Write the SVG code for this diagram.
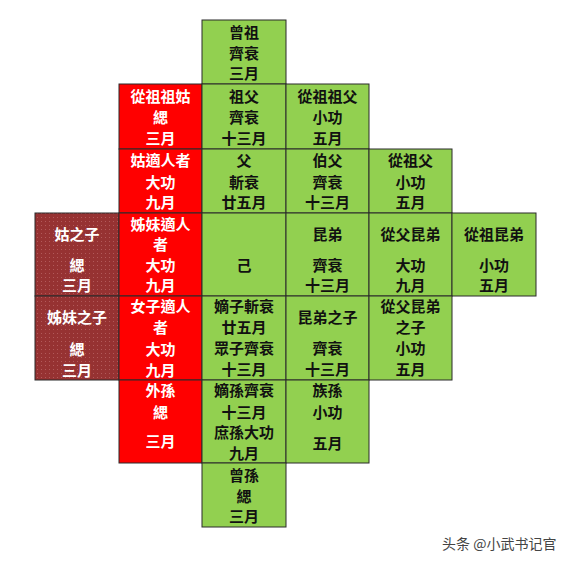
<svg xmlns="http://www.w3.org/2000/svg" width="576" height="566" viewBox="0 0 576 566">
<defs>
<pattern id="dots" width="4" height="4" patternUnits="userSpaceOnUse">
<rect width="4" height="4" fill="#963232"/>
<rect x="1" y="1" width="1" height="1" fill="#b25a5a"/>
</pattern>
<style>
rect.g{fill:#92D050;stroke:#2b2b2b;stroke-width:1}
rect.r{fill:#FF0000;stroke:#2b2b2b;stroke-width:1}
rect.b{fill:url(#dots);stroke:#2b2b2b;stroke-width:1}
text{font-family:"Noto Sans CJK TC","Noto Sans CJK SC",sans-serif;font-size:15px;font-weight:bold;text-anchor:middle}
.g text,g.g text{fill:#111}
g.r text,g.b text{fill:#fff}
.wm{font-family:"Noto Sans CJK SC",sans-serif;font-size:14px;font-weight:normal;fill:#444;text-anchor:start}
</style>
</defs>
<rect width="576" height="566" fill="#fff"/>

<g id="zengzu" class="g"><rect class="g" x="202" y="20" width="84" height="64"/>
<text x="244" y="38">曾祖</text><text x="244" y="59">齊衰</text><text x="244" y="79">三月</text></g>

<g id="congzuzugu" class="r"><rect class="r" x="119" y="84" width="83" height="65"/>
<text x="160.5" y="102">從祖祖姑</text><text x="160.5" y="123">緦</text><text x="160.5" y="144">三月</text></g>
<g id="zufu" class="g"><rect class="g" x="202" y="84" width="84" height="65"/>
<text x="244" y="102">祖父</text><text x="244" y="123">齊衰</text><text x="244" y="144">十三月</text></g>
<g id="congzuzufu" class="g"><rect class="g" x="286" y="84" width="83" height="65"/>
<text x="327.5" y="102">從祖祖父</text><text x="327.5" y="123">小功</text><text x="327.5" y="144">五月</text></g>

<g id="gushiren" class="r"><rect class="r" x="119" y="149" width="83" height="64"/>
<text x="160.5" y="166">姑適人者</text><text x="160.5" y="188">大功</text><text x="160.5" y="208">九月</text></g>
<g id="fu" class="g"><rect class="g" x="202" y="149" width="84" height="64"/>
<text x="244" y="166">父</text><text x="244" y="188">斬衰</text><text x="244" y="208">廿五月</text></g>
<g id="bofu" class="g"><rect class="g" x="286" y="149" width="83" height="64"/>
<text x="327.5" y="166">伯父</text><text x="327.5" y="188">齊衰</text><text x="327.5" y="208">十三月</text></g>
<g id="congzufu" class="g"><rect class="g" x="369" y="149" width="83" height="64"/>
<text x="410.5" y="166">從祖父</text><text x="410.5" y="188">小功</text><text x="410.5" y="208">五月</text></g>

<g id="guzhizi" class="b"><rect class="b" x="35" y="213" width="84" height="83"/>
<text x="77" y="239.5">姑之子</text><text x="77" y="270.5">緦</text><text x="77" y="291">三月</text></g>
<g id="zimeishiren" class="r"><rect class="r" x="119" y="213" width="83" height="83"/>
<text x="160.5" y="229.5">姊妹適人</text><text x="160.5" y="249.5">者</text><text x="160.5" y="270.5">大功</text><text x="160.5" y="291">九月</text></g>
<g id="ji" class="g"><rect class="g" x="202" y="213" width="84" height="83"/>
<text x="244" y="271">己</text></g>
<g id="kundi" class="g"><rect class="g" x="286" y="213" width="83" height="83"/>
<text x="327.5" y="239.5">昆弟</text><text x="327.5" y="270.5">齊衰</text><text x="327.5" y="291">十三月</text></g>
<g id="congfukundi" class="g"><rect class="g" x="369" y="213" width="83" height="83"/>
<text x="410.5" y="239.5">從父昆弟</text><text x="410.5" y="270.5">大功</text><text x="410.5" y="291">九月</text></g>
<g id="congzukundi" class="g"><rect class="g" x="452" y="213" width="84" height="83"/>
<text x="494" y="239.5">從祖昆弟</text><text x="494" y="270.5">小功</text><text x="494" y="291">五月</text></g>

<g id="zimeizhizi" class="b"><rect class="b" x="35" y="296" width="84" height="84"/>
<text x="77" y="322.5">姊妹之子</text><text x="77" y="354.5">緦</text><text x="77" y="375.5">三月</text></g>
<g id="nvzishiren" class="r"><rect class="r" x="119" y="296" width="83" height="84"/>
<text x="160.5" y="312">女子適人</text><text x="160.5" y="333">者</text><text x="160.5" y="354.5">大功</text><text x="160.5" y="375.5">九月</text></g>
<g id="dizi" class="g"><rect class="g" x="202" y="296" width="84" height="84"/>
<text x="244" y="312">嫡子斬衰</text><text x="244" y="333">廿五月</text><text x="244" y="354">眾子齊衰</text><text x="244" y="374.5">十三月</text></g>
<g id="kundizhizi" class="g"><rect class="g" x="286" y="296" width="83" height="84"/>
<text x="327.5" y="322.5">昆弟之子</text><text x="327.5" y="354">齊衰</text><text x="327.5" y="374.5">十三月</text></g>
<g id="congfukundizhizi" class="g"><rect class="g" x="369" y="296" width="83" height="84"/>
<text x="410.5" y="312">從父昆弟</text><text x="410.5" y="333">之子</text><text x="410.5" y="354">小功</text><text x="410.5" y="374.5">五月</text></g>

<g id="waisun" class="r"><rect class="r" x="119" y="380" width="83" height="83"/>
<text x="160.5" y="396">外孫</text><text x="160.5" y="417.5">緦</text><text x="160.5" y="447">三月</text></g>
<g id="disun" class="g"><rect class="g" x="202" y="380" width="84" height="83"/>
<text x="244" y="396">嫡孫齊衰</text><text x="244" y="417.5">十三月</text><text x="244" y="438">庶孫大功</text><text x="244" y="458.5">九月</text></g>
<g id="zusun" class="g"><rect class="g" x="286" y="380" width="83" height="83"/>
<text x="327.5" y="395.5">族孫</text><text x="327.5" y="417.5">小功</text><text x="327.5" y="448.5">五月</text></g>

<g id="zengsun" class="g"><rect class="g" x="202" y="463" width="84" height="64"/>
<text x="244" y="480.5">曾孫</text><text x="244" y="501.5">緦</text><text x="244" y="522">三月</text></g>

<g id="connectors"></g>

<text class="wm" x="442" y="549">头条 @小武书记官</text>
</svg>
